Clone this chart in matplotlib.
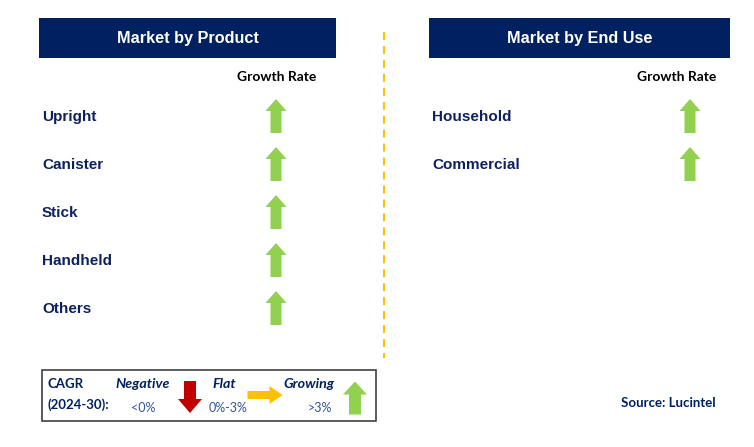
import matplotlib
matplotlib.use("Agg")
import matplotlib.pyplot as plt
from matplotlib.patches import Rectangle, FancyArrow

# data
products = ["Upright", "Canister", "Stick", "Handheld", "Others"]
product_growth = ["up", "up", "up", "up", "up"]
end_uses = ["Household", "Commercial"]
end_use_growth = ["up", "up"]
legend_labels = ["Negative", "Flat", "Growing"]
legend_ranges = ["<0%", "0%-3%", ">3%"]
legend_dirs = ["down", "right", "up"]

NAVY = "#002060"
TXT = "#0f2060"
COLORS = {"up": "#92D050", "down": "#C00000", "right": "#FFC000"}

W, H = 754, 447
fig = plt.figure(figsize=(W / 100, H / 100), dpi=100)
ax = fig.add_axes([0, 0, 1, 1])
ax.set_xlim(0, W)
ax.set_ylim(H, 0)
ax.axis("off")

BOLD = dict(family="Liberation Sans", weight="bold")


def arrow(x, y, d, length=34, shaft=11, head=21, head_len=12):
    # x, y = centre of the arrow
    c = COLORS[d]
    if d == "up":
        a = FancyArrow(x, y + length / 2, 0, -length, width=shaft, head_width=head,
                       head_length=head_len, length_includes_head=True, color=c, lw=0)
    elif d == "down":
        a = FancyArrow(x, y - length / 2, 0, length, width=shaft, head_width=head,
                       head_length=head_len, length_includes_head=True, color=c, lw=0)
    else:
        a = FancyArrow(x - length / 2, y, length, 0, width=shaft, head_width=head,
                       head_length=head_len, length_includes_head=True, color=c, lw=0)
    ax.add_patch(a)


def panel(x0, x1, title, items, growth, label_x, arrow_x, gr_x):
    ax.add_patch(Rectangle((x0, 18), x1 - x0, 40, color=NAVY, lw=0))
    ax.text((x0 + x1) / 2, 39, title, color="white", fontsize=11.7, ha="center", va="center", **BOLD)
    ax.text(gr_x, 77, "Growth Rate", color="black", fontsize=10, ha="center", va="center",
            family="Lato", weight="bold")
    for i, (name, g) in enumerate(zip(items, growth)):
        y = 117 + 48 * i
        ax.text(label_x, y, name, color=TXT, fontsize=11, ha="left", va="center", **BOLD)
        arrow(arrow_x, y - 1, g)


panel(39, 336, "Market by Product", products, product_growth, 42, 276, 277)
panel(429, 730, "Market by End Use", end_uses, end_use_growth, 432, 690, 677)

# divider
ax.plot([384, 384], [32, 358], color="#FFC000", lw=1.5, ls=(0, (3.8, 2.9)))

# legend box
ax.add_patch(Rectangle((42, 370), 334, 51, fill=False, edgecolor="#404040", lw=1.2))
ax.text(48, 384, "CAGR", color=NAVY, fontsize=9.5, ha="left", va="center", family="Lato", weight="bold")
ax.text(48, 405, "(2024-30):", color=NAVY, fontsize=9.5, ha="left", va="center", family="Lato", weight="bold")
lab_x = [143, 224, 309]
rng_x = [143, 228, 320]
arr_x = [190, 265, 355]
for lab, rng, d, lx, rx, axx in zip(legend_labels, legend_ranges, legend_dirs, lab_x, rng_x, arr_x):
    ax.text(lx, 384, lab, color=NAVY, fontsize=10.3, ha="center", va="center", family="Lato",
            weight="bold", style="italic")
    ax.text(rx, 408, rng, color="#2F5597", fontsize=9, ha="center", va="center", family="Lato")
    if d == "right":
        arrow(axx, 395, d, length=35, shaft=8, head=18, head_len=13)
    elif d == "down":
        arrow(axx, 397, d, length=32, shaft=12, head=24, head_len=14)
    else:
        arrow(axx, 398, d, length=33, shaft=12, head=24, head_len=13)

ax.text(668, 403, "Source: Lucintel", color=NAVY, fontsize=9.5, ha="center", va="center",
        family="Lato", weight="bold")

fig.savefig("out.png", dpi=100)
